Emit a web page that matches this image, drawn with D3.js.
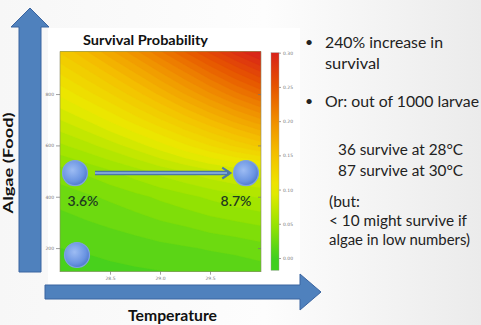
<!DOCTYPE html>
<html><head><meta charset="utf-8">
<script src="https://cdn.jsdelivr.net/npm/d3@7"></script>
<style>body{margin:0;background:#fff}svg{display:block}</style>
</head><body>
<script>
// ---- data ----
const temperatures = [28, 28.25, 28.5, 28.75, 29, 29.25, 29.5, 29.75, 30];
const algaeLevels = [1000, 900, 800, 700, 600, 500, 400, 300, 200, 100];
const survival = [
  [0.150, 0.168, 0.188, 0.209, 0.231, 0.254, 0.277, 0.300, 0.320],
  [0.125, 0.140, 0.157, 0.175, 0.195, 0.215, 0.236, 0.256, 0.275],
  [0.102, 0.115, 0.129, 0.145, 0.162, 0.180, 0.198, 0.216, 0.232],
  [0.080, 0.090, 0.102, 0.115, 0.129, 0.144, 0.159, 0.174, 0.188],
  [0.058, 0.066, 0.075, 0.085, 0.096, 0.108, 0.120, 0.132, 0.143],
  [0.036, 0.042, 0.049, 0.056, 0.064, 0.071, 0.078, 0.083, 0.087],
  [0.024, 0.028, 0.032, 0.037, 0.042, 0.047, 0.052, 0.057, 0.061],
  [0.016, 0.019, 0.022, 0.025, 0.029, 0.032, 0.036, 0.039, 0.042],
  [0.010, 0.011, 0.013, 0.015, 0.017, 0.019, 0.021, 0.023, 0.026],
  [0.005, 0.006, 0.007, 0.008, 0.009, 0.010, 0.011, 0.012, 0.014]
];
const xTickValues = [28.5, 29.0, 29.5];
const yTickValues = [200, 400, 600, 800];
const colorbarTicks = [0.00, 0.05, 0.10, 0.15, 0.20, 0.25, 0.30];
const colorStops = [0.00, 0.05, 0.10, 0.15, 0.20, 0.25, 0.30];
const colorValues = ["#3fcf1f", "#9be400", "#ebea00", "#f4c200", "#f08e00", "#e65400", "#d8221a"];
const markerTemps = [28.15, 29.86, 28.17];
const markerAlgae = [492, 492, 173];
const markerLabels = ["3.6%", "8.7%", ""];
const chartTitle = "Survival Probability";
const xLabel = "Temperature";
const yLabel = "Algae (Food)";
const textLines = [
  {t: "240% increase in", bullet: true},
  {t: "survival"},
  {t: "Or: out of 1000 larvae", bullet: true},
  {t: "36 survive at 28°C"},
  {t: "87 survive at 30°C"},
  {t: "(but:"},
  {t: "< 10 might survive if"},
  {t: "algae in low numbers)"}
];
// layout for text lines (positions only)
const textPos = [[325,48,118],[325,69,55],[325,107,154],[338,155,125],[338,176,125],[329,207,31],[329,226,138],[329,245,141]];

const W = 481, H = 325;
const svg = d3.select("body").append("svg").attr("width", W).attr("height", H);
const defs = svg.append("defs");

// background
const bg = defs.append("linearGradient").attr("id","bg").attr("x1","0").attr("x2","1").attr("y1","0").attr("y2","0");
bg.append("stop").attr("offset","0").attr("stop-color","#f7f7f7");
bg.append("stop").attr("offset","0.55").attr("stop-color","#fdfdfd");
bg.append("stop").attr("offset","1").attr("stop-color","#ebebeb");
svg.append("rect").attr("width",W).attr("height",H).attr("fill","url(#bg)");
svg.append("rect").attr("x",48).attr("y",28).attr("width",252).attr("height",262).attr("fill","#ffffff");

// scales
const plot = {x0: 60, x1: 261, y0: 51.7, y1: 271.7};
const x = d3.scaleLinear().domain([28, 30]).range([plot.x0, plot.x1 - 1]);
const y = d3.scaleLinear().domain([108, 965]).range([plot.y1, plot.y0]);
const color = d3.scaleLinear().domain(colorStops).range(colorValues).clamp(true);

// heatmap via contours
defs.append("clipPath").attr("id","clip").append("rect")
  .attr("x",plot.x0).attr("y",plot.y0).attr("width",plot.x1-plot.x0).attr("height",plot.y1-plot.y0);
const n = temperatures.length, m = algaeLevels.length;
const values = survival.flat();
const step = 0.01;
const thresholds = d3.range(0, 0.33, step);
const contours = d3.contours().size([n, m]).thresholds(thresholds)(values);
const dT = temperatures[1] - temperatures[0], dA = algaeLevels[1] - algaeLevels[0];
const proj = d3.geoTransform({point(px, py) {
  this.stream.point(x(temperatures[0] + (px - 0.5) * dT), y(algaeLevels[0] + (py - 0.5) * dA));
}});
const path = d3.geoPath(proj);
svg.append("g").attr("clip-path","url(#clip)")
  .selectAll("path").data(contours).join("path")
  .attr("d", path).attr("fill", d => color(d.value + step / 2)).attr("stroke", d => color(d.value + step / 2)).attr("stroke-width",0.3);
svg.append("rect").attr("x",plot.x0).attr("y",plot.y0).attr("width",plot.x1-plot.x0).attr("height",plot.y1-plot.y0)
  .attr("fill","none").attr("stroke","#8a8a6a").attr("stroke-width",0.6);

// axes
function styleAxis(g) {
  g.select(".domain").remove();
  g.selectAll(".tick line").attr("stroke","#777").attr("stroke-width",0.7);
  g.selectAll(".tick text").attr("fill","#777").attr("font-size",4.5).attr("font-family","DejaVu Sans");
}
svg.append("g").attr("transform",`translate(${plot.x0},0)`)
  .call(d3.axisLeft(y).tickValues(yTickValues).tickSize(4).tickPadding(2).tickFormat(d3.format("d"))).call(styleAxis);
svg.append("g").attr("transform",`translate(${plot.x1},0)`)
  .call(d3.axisLeft(y).tickValues(yTickValues).tickSize(3).tickFormat("")).call(styleAxis);
svg.append("g").attr("transform",`translate(0,${plot.y1})`)
  .call(d3.axisBottom(x).tickValues(xTickValues).tickSize(3).tickPadding(2).tickFormat(d3.format(".1f"))).call(styleAxis);

// colorbar
const cb = d3.scaleLinear().domain([0, 0.30]).range([258, 52.7]);
const cbLow = -0.018, cbHigh = 0.30;
const cg = defs.append("linearGradient").attr("id","cbg").attr("x1","0").attr("x2","0").attr("y1","1").attr("y2","0");
d3.range(0, 21).forEach(i => {
  const v = cbLow + (cbHigh - cbLow) * i / 20;
  cg.append("stop").attr("offset", i / 20).attr("stop-color", color(v));
});
svg.append("rect").attr("x",271).attr("y",cb(cbHigh)).attr("width",8).attr("height",cb(cbLow)-cb(cbHigh))
  .attr("fill","url(#cbg)").attr("stroke","#999").attr("stroke-width",0.4);
svg.append("g").attr("transform","translate(279,0)")
  .call(d3.axisRight(cb).tickValues(colorbarTicks).tickSize(2).tickPadding(2).tickFormat(d3.format(".2f"))).call(styleAxis);

// title
svg.append("text").attr("x",83).attr("y",45).text(chartTitle)
  .attr("font-family","Lato").attr("font-weight","bold").attr("font-size",13).attr("fill","#111")
  .attr("textLength",125).attr("lengthAdjust","spacingAndGlyphs");

// big blue arrows
const arrowFill = "#4f81bd", arrowStroke = "#3a64a0";
svg.append("path").attr("d","M19,272 L19,27 L11,27 L30,8 L49,27 L41,27 L41,272 Z")
  .attr("fill",arrowFill).attr("stroke",arrowStroke).attr("stroke-width",1);
svg.append("path").attr("d","M45,285 L300,285 L300,274 L321,292 L300,310 L300,299 L45,299 Z")
  .attr("fill",arrowFill).attr("stroke",arrowStroke).attr("stroke-width",1);

svg.append("text").attr("transform","translate(13,163) rotate(-90)").attr("text-anchor","middle")
  .text(yLabel).attr("font-family","Lato").attr("font-weight","bold").attr("font-size",14).attr("fill","#111")
  .attr("textLength",101).attr("lengthAdjust","spacingAndGlyphs");
svg.append("text").attr("x",128).attr("y",321).text(xLabel)
  .attr("font-family","Lato").attr("font-weight","bold").attr("font-size",15).attr("fill","#111")
  .attr("textLength",89).attr("lengthAdjust","spacingAndGlyphs");

// markers
const rg = defs.append("radialGradient").attr("id","ball").attr("cx","0.4").attr("cy","0.38").attr("r","0.65");
rg.append("stop").attr("offset","0").attr("stop-color","#9dbcf3");
rg.append("stop").attr("offset","0.7").attr("stop-color","#6a94e2");
rg.append("stop").attr("offset","1").attr("stop-color","#4d78cc");
defs.append("marker").attr("id","ah").attr("viewBox","0 0 10 10").attr("refX",6).attr("refY",5)
  .attr("markerWidth",3).attr("markerHeight",3).attr("orient","auto")
  .append("path").attr("d","M1,1 L7,5 L1,9").attr("fill","none").attr("stroke","#4b76a8").attr("stroke-width",1.6);
svg.append("line")
  .attr("x1", x(markerTemps[0]) + 20).attr("x2", x(markerTemps[1]) - 17)
  .attr("y1", y(markerAlgae[0])).attr("y2", y(markerAlgae[1]))
  .attr("stroke","#4b76a8").attr("stroke-width",4.5).attr("marker-end","url(#ah)");
svg.append("line")
  .attr("x1", x(markerTemps[0]) + 20).attr("x2", x(markerTemps[1]) - 19)
  .attr("y1", y(markerAlgae[0])).attr("y2", y(markerAlgae[1]))
  .attr("stroke","#7ea6d6").attr("stroke-width",2);
svg.selectAll("circle.m").data(markerTemps).join("circle").attr("class","m")
  .attr("cx",(d,i)=>x(d)).attr("cy",(d,i)=>y(markerAlgae[i])).attr("r",12.5)
  .attr("fill","url(#ball)").attr("stroke","#7fa3df").attr("stroke-width",1.2);
svg.selectAll("text.ml").data(markerLabels.filter(d=>d)).join("text").attr("class","ml")
  .attr("x",(d,i)=>x(markerTemps[i]) + (i===0 ? 8 : -10)).attr("y",(d,i)=>y(markerAlgae[i]) + 33)
  .attr("text-anchor","middle").text(d=>d)
  .attr("font-family","Lato").attr("font-weight","600").attr("font-size",14).attr("fill","#1f3b1f")
  .attr("textLength",31).attr("lengthAdjust","spacingAndGlyphs");

// right text
const tg = svg.append("g").attr("font-family","Lato").attr("font-size",15.5).attr("fill","#222");
textLines.forEach((l,i) => {
  const [tx, ty, tw] = textPos[i];
  tg.append("text").attr("x",tx).attr("y",ty).text(l.t).attr("textLength",tw).attr("lengthAdjust","spacingAndGlyphs");
  if (l.bullet) tg.append("text").attr("x",305).attr("y",ty-1).text("•").attr("font-size",14);
});
</script>
</body></html>
